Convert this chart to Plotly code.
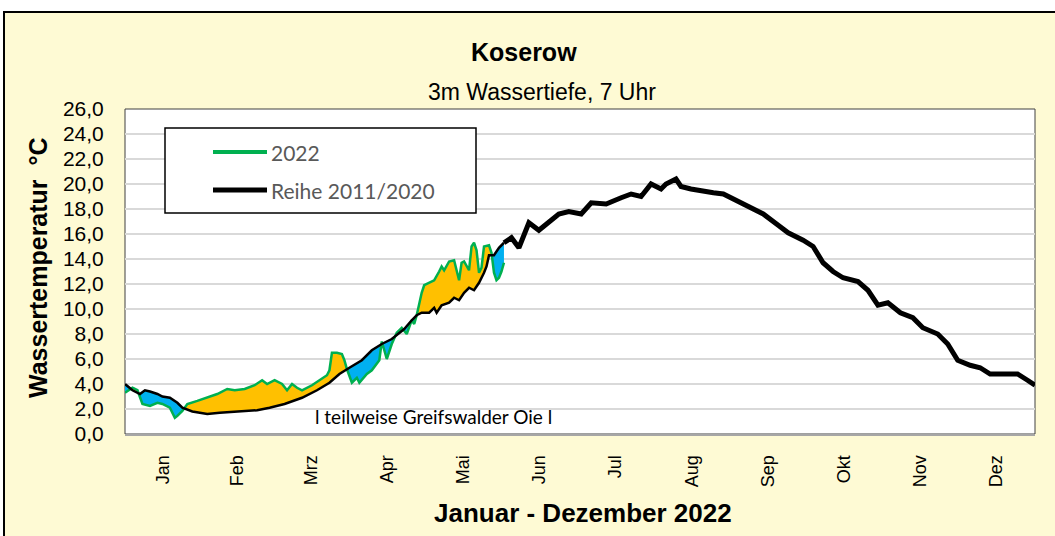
import numpy as np
import plotly.graph_objects as go

# ---------------- data ----------------
months = ["Jan", "Feb", "Mrz", "Apr", "Mai", "Jun", "Jul", "Aug", "Sep", "Okt", "Nov", "Dez"]
month_len = [31, 28, 31, 30, 31, 30, 31, 31, 30, 31, 30, 31]

# long-term series 2011/2020 (day of year, 0 = 1 Jan)
reihe_days = [0, 3, 6, 8, 10, 13, 15, 18, 21, 23, 27, 33, 38, 44, 53, 58, 64, 71, 77, 82,
              86, 90, 95, 99, 103, 107, 112, 115, 117, 119, 122, 124, 125, 127, 130, 132,
              134, 136, 138, 140, 142, 144, 145, 146, 148, 150, 152, 155, 158, 162, 166,
              170, 174, 178, 183, 187, 193, 199, 203, 207, 211, 215, 217, 221, 223, 227,
              232, 236, 240, 244, 249, 256, 262, 266, 272, 276, 280, 284, 288, 294, 298,
              302, 306, 311, 316, 320, 326, 330, 334, 339, 343, 347, 354, 358, 362, 365]
reihe_vals = [4.0, 3.5, 3.2, 3.5, 3.4, 3.2, 3.0, 2.9, 2.5, 2.1, 1.8, 1.6, 1.7, 1.8, 1.9, 2.1,
              2.4, 2.9, 3.5, 4.1, 4.8, 5.3, 5.9, 6.7, 7.2, 7.6, 8.4, 9.1, 9.5, 9.7, 9.7, 10.1,
              9.7, 10.3, 10.5, 10.9, 10.7, 11.3, 11.7, 11.5, 12.1, 12.9, 13.4, 14.3, 14.3,
              14.9, 15.3, 15.7, 14.9, 16.9, 16.3, 16.9, 17.6, 17.8, 17.6, 18.5, 18.4, 18.9,
              19.2, 19.0, 20.0, 19.6, 20.0, 20.4, 19.8, 19.6, 19.4, 19.3, 19.2, 18.8, 18.2,
              17.6, 16.7, 16.1, 15.5, 15.0, 13.7, 13.0, 12.5, 12.2, 11.5, 10.3, 10.5, 9.7,
              9.3, 8.5, 8.0, 7.2, 5.9, 5.5, 5.3, 4.8, 4.8, 4.8, 4.3, 3.9]

# year 2022 (1 Jan - 1 Jun)
y2022_days = [0, 2, 3, 5, 7, 10, 13, 15, 18, 20, 21, 23, 25, 29, 33, 37, 41, 44, 48, 52,
              55, 57, 60, 63, 65, 67, 69, 71, 75, 79, 81, 82, 83, 85, 87, 88, 89, 91, 93,
              94, 97, 99, 102, 103, 105, 107, 109, 111, 113, 115, 116, 117, 119, 120, 124,
              126, 127, 128, 130, 132, 133, 134, 135, 136, 138, 139, 140, 141, 142, 143,
              144, 146, 147, 148, 149, 150, 151, 152]
y2022_vals = [3.3, 3.6, 3.7, 3.5, 2.4, 2.25, 2.5, 2.4, 2.1, 1.3, 1.45, 1.85, 2.4, 2.65, 2.9,
              3.2, 3.6, 3.5, 3.6, 3.9, 4.3, 4.0, 4.3, 4.0, 3.5, 4.0, 3.7, 3.5, 3.9, 4.4,
              4.7, 5.1, 6.5, 6.5, 6.4, 5.9, 5.2, 4.1, 4.5, 4.1, 4.8, 5.1, 5.9, 7.4, 6.0,
              7.2, 8.1, 8.5, 8.0, 9.1, 8.8, 9.5, 11.3, 11.9, 12.3, 13.0, 13.4, 13.1, 13.8,
              13.9, 13.1, 12.3, 13.7, 13.8, 13.1, 15.0, 15.3, 14.7, 12.9, 13.3, 15.0, 15.1,
              14.5, 12.9, 12.3, 12.5, 13.0, 13.7]

# ---------------- layout helpers ----------------
W, H = 1055, 536
L, R, T, B = 125, 20, 109, 102
PW, PH = W - L - R, H - T - B


def px2x(px):
    return (px - L) / PW


def px2y(py):
    return (T + PH - py) / PH


fig = go.Figure()

# ---- fill between 2022 and the long-term series ----
rd = np.array(reihe_days, float)
rv = np.array(reihe_vals, float)
yd = np.array(y2022_days, float)
yv = np.array(y2022_vals, float)
grid = np.unique(np.concatenate([rd[rd <= yd.max()], yd]))
g22 = np.interp(grid, yd, yv)
grr = np.interp(grid, rd, rv)
diff = g22 - grr

xs, a, b = [grid[0]], [g22[0]], [grr[0]]
for i in range(1, len(grid)):
    d0, d1 = diff[i - 1], diff[i]
    if d0 * d1 < 0:
        t = d0 / (d0 - d1)
        xc = grid[i - 1] + t * (grid[i] - grid[i - 1])
        yc = g22[i - 1] + t * (g22[i] - g22[i - 1])
        xs.append(xc); a.append(yc); b.append(yc)
    xs.append(grid[i]); a.append(g22[i]); b.append(grr[i])
xs, a, b = np.array(xs), np.array(a), np.array(b)
sgn = np.sign(a - b)

segments = []
cur, cur_s = [0], None
for i in range(1, len(xs)):
    s = sgn[i] if sgn[i] != 0 else None
    cur.append(i)
    if s is not None:
        if cur_s is None:
            cur_s = s
        elif s != cur_s:
            segments.append((cur_s, cur[:-1]))
            cur = [cur[-2], i]
            cur_s = s
segments.append((cur_s, cur))

for s, idx in segments:
    if s is None or len(idx) < 2:
        continue
    sx = xs[idx]
    poly_x = list(sx) + list(sx[::-1])
    poly_y = list(a[idx]) + list(b[idx][::-1])
    fig.add_trace(go.Scatter(
        x=poly_x, y=poly_y, fill="toself", mode="none",
        fillcolor="#FFC000" if s > 0 else "#00B0F0",
        showlegend=False, hoverinfo="skip"))

# ---- lines ----
fig.add_trace(go.Scatter(x=y2022_days, y=y2022_vals, mode="lines", name="2022",
                         line=dict(color="#00B050", width=2.5), showlegend=False))
split = [i for i, d in enumerate(reihe_days) if d <= 152]
fig.add_trace(go.Scatter(x=[reihe_days[i] for i in split], y=[reihe_vals[i] for i in split],
                         mode="lines", line=dict(color="black", width=2.5), showlegend=False))
rest = [i for i, d in enumerate(reihe_days) if d >= 152]
fig.add_trace(go.Scatter(x=[reihe_days[i] for i in rest], y=[reihe_vals[i] for i in rest],
                         mode="lines", name="Reihe 2011/2020",
                         line=dict(color="black", width=5), showlegend=False))

# ---- axes ----
starts = np.cumsum([0] + month_len[:-1])
mids = [s + n / 2 for s, n in zip(starts, month_len)]

fig.update_xaxes(range=[0, 365], tickvals=mids, ticktext=months, tickangle=-90,
                 tickfont=dict(family="Liberation Sans, Arial", size=18, color="black"),
                 ticks="outside", ticklen=12, tickcolor="rgba(0,0,0,0)",
                 showgrid=False, zeroline=False, showline=True,
                 linecolor="#A6A6A6", linewidth=2)
fig.update_yaxes(range=[0, 26], tickvals=list(range(0, 27, 2)), tickformat=".1f",
                 tickfont=dict(family="Liberation Sans, Arial", size=21, color="black"),
                 ticks="outside", ticklen=16, tickcolor="rgba(0,0,0,0)",
                 showgrid=True, gridcolor="#D9D9D9", gridwidth=2, zeroline=False,
                 showline=False)

shapes = [
    dict(type="rect", xref="paper", yref="paper", x0=px2x(4), x1=px2x(1062),
         y0=px2y(545), y1=px2y(12), fillcolor="#FEFAD4",
         line=dict(color="black", width=2), layer="below"),
    dict(type="rect", xref="paper", yref="paper", x0=0, x1=1, y0=0, y1=1,
         fillcolor="white", line=dict(color="#404040", width=1), layer="below"),
    dict(type="rect", xref="paper", yref="paper", x0=px2x(165), x1=px2x(476),
         y0=px2y(213), y1=px2y(128), fillcolor="white",
         line=dict(color="black", width=1.5), layer="above"),
    dict(type="line", xref="paper", yref="paper", x0=px2x(213), x1=px2x(267),
         y0=px2y(152), y1=px2y(152), line=dict(color="#00B050", width=4), layer="above"),
    dict(type="line", xref="paper", yref="paper", x0=px2x(213), x1=px2x(267),
         y0=px2y(190), y1=px2y(190), line=dict(color="black", width=5), layer="above"),
]

ann_font = "Liberation Sans, Arial"
annotations = [
    dict(text="<b>Koserow</b>", x=px2x(524), y=px2y(52), xref="paper", yref="paper",
         showarrow=False, font=dict(family=ann_font, size=25, color="black"),
         xanchor="center", yanchor="middle"),
    dict(text="3m Wassertiefe, 7 Uhr", x=px2x(542), y=px2y(92), xref="paper", yref="paper",
         showarrow=False, font=dict(family=ann_font, size=23, color="black"),
         xanchor="center", yanchor="middle"),
    dict(text="<b>Januar - Dezember 2022</b>", x=px2x(583), y=px2y(513), xref="paper",
         yref="paper", showarrow=False, font=dict(family=ann_font, size=26, color="black"),
         xanchor="center", yanchor="middle"),
    dict(text="<b>Wassertemperatur  °C</b>", x=px2x(38), y=px2y(268), xref="paper",
         yref="paper", showarrow=False, textangle=-90,
         font=dict(family=ann_font, size=25, color="black"),
         xanchor="center", yanchor="middle"),
    dict(text="2022", x=px2x(269), y=px2y(152), xref="paper", yref="paper",
         showarrow=False, font=dict(family="Lato", size=21, color="#595959"),
         xanchor="left", yanchor="middle"),
    dict(text="Reihe 2011/2020", x=px2x(269), y=px2y(190), xref="paper", yref="paper",
         showarrow=False, font=dict(family="Lato", size=21, color="#595959"),
         xanchor="left", yanchor="middle"),
    dict(text="l teilweise Greifswalder Oie l", x=px2x(433), y=px2y(416), xref="paper",
         yref="paper", showarrow=False, font=dict(family="Lato", size=19, color="black"),
         xanchor="center", yanchor="middle"),
]

fig.update_layout(width=W, height=H, margin=dict(l=L, r=R, t=T, b=B),
                  paper_bgcolor="white", plot_bgcolor="white", separators=",.",
                  shapes=shapes, annotations=annotations, showlegend=False)

fig.write_html("out.html", config={"displayModeBar": False},
               post_script="document.body.style.margin='0';document.body.style.overflow='hidden';")
